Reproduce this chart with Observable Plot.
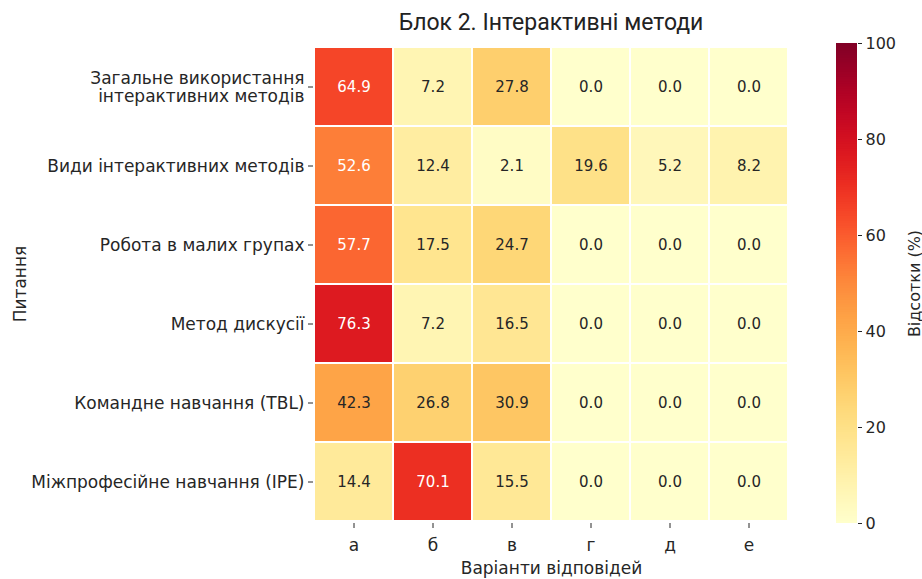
<!DOCTYPE html>
<html>
<head>
<meta charset="utf-8">
<script src="https://cdn.jsdelivr.net/npm/d3@7"></script>
<script src="https://cdn.jsdelivr.net/npm/@observablehq/plot@0.6"></script>
<style>
  body { margin: 0; background: white; }
  #wrap { position: relative; width: 922px; height: 579px; overflow: hidden; font-family: "DejaVu Sans", sans-serif; }
  #title { position: absolute; left: 313px; width: 476px; top: 9px; text-align: center; font-family: Roboto, "DejaVu Sans", sans-serif; font-size: 23px; color: #222; }
  #main { position: absolute; left: 0; top: 43px; }
  #cbar { position: absolute; left: 820px; top: 33px; }
</style>
</head>
<body>
<div id="wrap">
  <div id="title">Блок 2. Інтерактивні методи</div>
  <div id="main"></div>
  <div id="cbar"></div>
</div>
<script>
const questions = [
  "Загальне використання\nінтерактивних методів",
  "Види інтерактивних методів",
  "Робота в малих групах",
  "Метод дискусії",
  "Командне навчання (TBL)",
  "Міжпрофесійне навчання (IPE)"
];
const options = ["а", "б", "в", "г", "д", "е"];
const values = [
  [64.9, 7.2, 27.8, 0.0, 0.0, 0.0],
  [52.6, 12.4, 2.1, 19.6, 5.2, 8.2],
  [57.7, 17.5, 24.7, 0.0, 0.0, 0.0],
  [76.3, 7.2, 16.5, 0.0, 0.0, 0.0],
  [42.3, 26.8, 30.9, 0.0, 0.0, 0.0],
  [14.4, 70.1, 15.5, 0.0, 0.0, 0.0]
];
const colorTicks = [0, 20, 40, 60, 80, 100];

const cells = [];
questions.forEach((q, i) => options.forEach((o, j) => cells.push({q, o, v: values[i][j]})));

const colorScale = {type: "linear", scheme: "YlOrRd", domain: [0, 100]};

const main = Plot.plot({
  width: 922,
  height: 536,
  marginTop: 1,
  marginBottom: 56,
  marginLeft: 313,
  marginRight: 133,
  style: {fontFamily: "DejaVu Sans, sans-serif", fontSize: "15px", color: "#262626", background: "white"},
  x: {type: "band", domain: options, padding: 0},
  y: {type: "band", domain: questions, padding: 0},
  color: colorScale,
  marks: [
    Plot.cell(cells, {x: "o", y: "q", fill: "v", stroke: "white", strokeWidth: 2}),
    Plot.text(cells.filter(d => d.v > 50), {x: "o", y: "q", text: d => d.v.toFixed(1), fill: "white", fontSize: 15}),
    Plot.text(cells.filter(d => d.v <= 50), {x: "o", y: "q", text: d => d.v.toFixed(1), fill: "#262626", fontSize: 15}),
    Plot.axisX({anchor: "bottom", tickSize: 5, tickPadding: 10, fontSize: 17, label: "Варіанти відповідей", labelAnchor: "center", labelOffset: 50, labelArrow: "none"}),
    Plot.axisY({anchor: "left", tickSize: 5, tickPadding: 4, fontSize: 17, lineHeight: 1.1, label: "Питання", labelAnchor: "center", labelOffset: 300, labelArrow: "none"})
  ]
});
document.getElementById("main").appendChild(main);

const ramp = d3.range(0, 100, 0.5);
const cbar = Plot.plot({
  width: 102,
  height: 505,
  marginTop: 10,
  marginBottom: 15,
  marginLeft: 16,
  marginRight: 65,
  style: {fontFamily: "DejaVu Sans, sans-serif", fontSize: "15px", color: "#262626", background: "transparent"},
  y: {domain: [0, 100]},
  color: colorScale,
  marks: [
    Plot.rect(ramp, {y1: d => d, y2: d => Math.min(100, d + 1), fill: d => d + 0.25}),
    Plot.axisY({anchor: "right", ticks: colorTicks, tickSize: 4, tickPadding: 4, fontSize: 16, label: "Відсотки (%)", labelAnchor: "center", labelOffset: 62, labelArrow: "none"})
  ]
});
document.getElementById("cbar").appendChild(cbar);
</script>
</body>
</html>
